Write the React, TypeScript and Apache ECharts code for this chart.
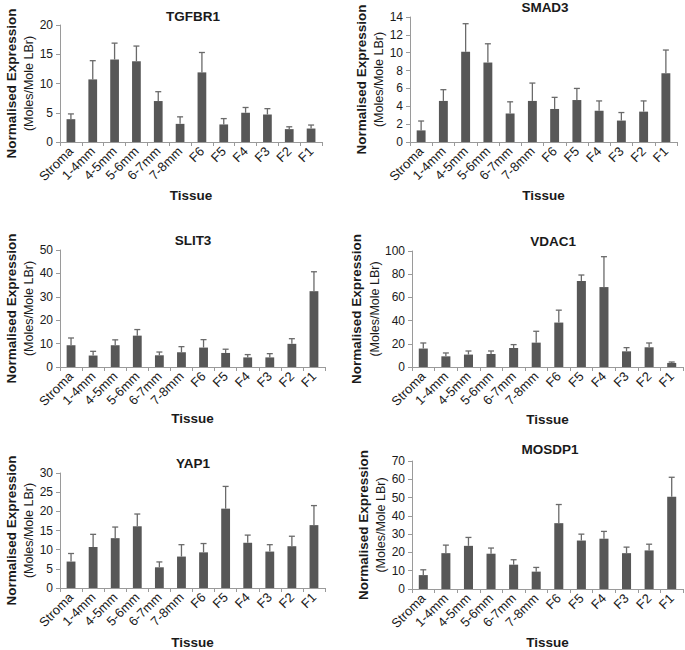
import React, { useEffect, useRef } from "react";
import * as echarts from "echarts";

const categories = ["Stroma", "1-4mm", "4-5mm", "5-6mm", "6-7mm", "7-8mm", "F6", "F5", "F4", "F3", "F2", "F1"];

const tgfbr1Values = [3.9, 10.7, 14.1, 13.8, 7.0, 3.1, 11.9, 3.0, 5.0, 4.7, 2.2, 2.3];
const tgfbr1Errors = [0.9, 3.2, 2.8, 2.6, 1.6, 1.2, 3.4, 1.0, 0.9, 1.0, 0.4, 0.6];

const smad3Values = [1.3, 4.6, 10.1, 8.9, 3.2, 4.6, 3.7, 4.7, 3.5, 2.4, 3.4, 7.7];
const smad3Errors = [1.05, 1.26, 3.15, 2.1, 1.3, 2.0, 1.3, 1.3, 1.1, 0.9, 1.2, 2.6];

const slit3Values = [9.3, 4.9, 9.3, 13.4, 5.0, 6.3, 8.3, 6.0, 4.1, 4.1, 9.9, 32.4];
const slit3Errors = [3.1, 1.8, 2.3, 2.6, 1.4, 2.4, 3.4, 1.6, 1.2, 1.6, 2.2, 8.3];

const vdac1Values = [15.9, 9.2, 10.7, 11.2, 16.4, 21.0, 38.3, 74.1, 68.9, 13.5, 17.0, 3.5];
const vdac1Errors = [4.8, 2.9, 3.1, 2.6, 2.9, 9.8, 10.7, 5.2, 26.2, 3.2, 3.7, 0.8];

const yap1Values = [6.9, 10.7, 13.0, 16.1, 5.4, 8.2, 9.3, 20.7, 11.8, 9.5, 10.9, 16.4];
const yap1Errors = [2.1, 3.3, 2.9, 3.2, 1.4, 3.1, 2.3, 5.8, 2.0, 1.8, 2.6, 5.1];

const mosdp1Values = [7.6, 19.6, 23.6, 19.3, 13.3, 9.5, 36.0, 26.5, 27.5, 19.6, 21.1, 50.5];
const mosdp1Errors = [2.9, 4.4, 4.6, 3.1, 2.7, 2.3, 10.2, 3.5, 4.0, 3.3, 3.4, 10.6];

const panelTitles = ["TGFBR1", "SMAD3", "SLIT3", "VDAC1", "YAP1", "MOSDP1"];
const panelValues = [tgfbr1Values, smad3Values, slit3Values, vdac1Values, yap1Values, mosdp1Values];
const panelErrors = [tgfbr1Errors, smad3Errors, slit3Errors, vdac1Errors, yap1Errors, mosdp1Errors];
const yMax = [20, 14, 50, 100, 30, 70];
const yStep = [5, 2, 10, 20, 5, 10];

const xAxisName = "Tissue";
const yAxisName1 = "Normalised Expression";
const yAxisName2 = "(Moles/Mole LBr)";

// layout (pixels)
const grids = [
  { left: 60, top: 25, width: 262, height: 117 },
  { left: 410, top: 17, width: 267, height: 125 },
  { left: 60, top: 250, width: 265, height: 117 },
  { left: 412, top: 251, width: 271, height: 116 },
  { left: 60, top: 473, width: 265, height: 115 },
  { left: 412, top: 461, width: 271, height: 128 },
];
const titlePos = [
  { x: 193, y: 9 },
  { x: 545, y: 0 },
  { x: 193, y: 233 },
  { x: 553, y: 234 },
  { x: 193, y: 456 },
  { x: 550, y: 442 },
];
const xNameGap = [46, 46, 44, 45, 47, 46];

const FONT = "'Liberation Sans', Arial, sans-serif";
const BAR = "#575757";
const AXIS = "#9a9a9a";
const TEXT = "#1a1a1a";

export default function App() {
  const ref = useRef<HTMLDivElement>(null);

  useEffect(() => {
    if (!ref.current) return;
    const chart = echarts.init(ref.current, undefined, { renderer: "svg" });

    const title: any[] = [];
    const grid: any[] = [];
    const xAxis: any[] = [];
    const yAxis: any[] = [];
    const series: any[] = [];

    panelTitles.forEach((t, i) => {
      title.push({
        text: t,
        left: titlePos[i].x,
        top: titlePos[i].y,
        textAlign: "center",
        padding: 0,
        textStyle: { fontFamily: FONT, fontSize: 13.5, fontWeight: "bold", color: TEXT },
      });
      grid.push({ ...grids[i], containLabel: false });
      xAxis.push({
        type: "category",
        gridIndex: i,
        data: categories,
        name: xAxisName,
        nameLocation: "middle",
        nameGap: xNameGap[i],
        nameTextStyle: { fontFamily: FONT, fontSize: 13.5, fontWeight: "bold", color: TEXT },
        axisLine: { lineStyle: { color: AXIS, width: 1 } },
        axisTick: { show: true, length: 4, lineStyle: { color: AXIS } },
        axisLabel: { rotate: 45, fontFamily: FONT, fontSize: 13, color: TEXT, margin: 7, interval: 0 },
        splitLine: { show: false },
      });
      yAxis.push({
        type: "value",
        gridIndex: i,
        min: 0,
        max: yMax[i],
        interval: yStep[i],
        name: `{a|${yAxisName1}}\n{b|${yAxisName2}}`,
        nameLocation: "middle",
        nameRotate: 90,
        nameGap: 22,
        nameTextStyle: {
          fontFamily: FONT,
          color: TEXT,
          rich: {
            a: { fontFamily: FONT, fontSize: 13.5, fontWeight: "bold", color: TEXT, lineHeight: 18 },
            b: { fontFamily: FONT, fontSize: 12.5, color: TEXT, lineHeight: 18 },
          },
        },
        axisLine: { show: true, lineStyle: { color: AXIS, width: 1 } },
        axisTick: { show: true, length: 4, lineStyle: { color: AXIS } },
        axisLabel: { fontFamily: FONT, fontSize: 12, color: TEXT, margin: 7 },
        splitLine: { show: false },
      });
      series.push({
        type: "bar",
        name: t,
        xAxisIndex: i,
        yAxisIndex: i,
        data: panelValues[i],
        barWidth: "40%",
        itemStyle: { color: BAR },
        silent: true,
      });
      series.push({
        type: "custom",
        name: t + " SD",
        xAxisIndex: i,
        yAxisIndex: i,
        data: panelValues[i].map((v, k) => [k, v, v + panelErrors[i][k]]),
        z: 3,
        silent: true,
        renderItem: (params: any, api: any) => {
          const x = api.value(0);
          const base = api.coord([x, api.value(1)]);
          const top = api.coord([x, api.value(2)]);
          const cap = 3;
          return {
            type: "group",
            children: [
              {
                type: "line",
                shape: { x1: base[0], y1: base[1], x2: top[0], y2: top[1] },
                style: { stroke: "#6a6a6a", lineWidth: 1.3 },
              },
              {
                type: "line",
                shape: { x1: top[0] - cap, y1: top[1], x2: top[0] + cap, y2: top[1] },
                style: { stroke: "#6a6a6a", lineWidth: 1.3 },
              },
            ],
          };
        },
      });
    });

    chart.setOption({
      animation: false,
      backgroundColor: "#ffffff",
      title,
      grid,
      xAxis,
      yAxis,
      series,
    });

    return () => chart.dispose();
  }, []);

  return (
    <div
      ref={ref}
      style={{ position: "absolute", left: 0, top: 0, width: 685, height: 650 }}
    />
  );
}
